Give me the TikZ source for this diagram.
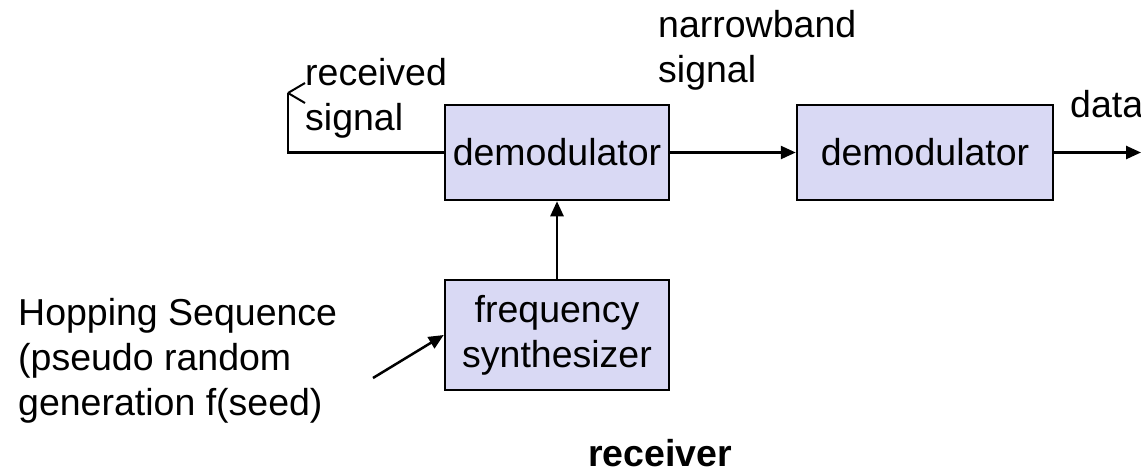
\documentclass[tikz,border=0pt]{standalone}
\usepackage{fontspec}
\setmainfont{Liberation Sans}
\usetikzlibrary{arrows.meta}
\definecolor{boxfill}{RGB}{217,217,244}
\begin{document}
\begin{tikzpicture}[x=1pt,y=-1pt,
  every node/.style={font=\fontsize{37.5}{45}\selectfont, inner sep=0pt},
  blk/.style={draw, line width=2.5pt, fill=boxfill, align=center},
  conn/.style={line width=2.5pt, -{Triangle[length=15pt,width=13pt]}},
  lbl/.style={align=left, anchor=north west}]
\useasboundingbox (0,0) rectangle (1141,474);
\node[blk, minimum width=224pt, minimum height=95pt] (dem1) at (557,152.5) {demodulator};
\node[blk, minimum width=256pt, minimum height=95pt] (dem2) at (925,152.5) {demodulator};
\node[blk, minimum width=224pt, minimum height=110pt] (syn) at (557,335) {frequency\\synthesizer};
\coordinate (rs) at (288,93);
\coordinate (hs) at (373,378);
\coordinate (out) at (1141,152.5);
\draw[line width=2.5pt] (dem1.west) -| (rs);
\draw[line width=2pt] (rs) -- ++(17,-10) (rs) -- ++(17,10);
\draw[conn] (dem1.east) -- (dem2.west);
\draw[conn] (dem2.east) -- (out);
\draw[conn] (syn.north) -- (dem1.south);
\draw[conn] (hs) -- (syn.west);
\node[lbl] (rcv) at (305,58) {received\\signal};
\node[lbl] (nb) at (658,10) {narrowband\\signal};
\node[anchor=base west] (data) at (1070,117) {data};
\node[lbl] (hop) at (18,298) {Hopping Sequence\\(pseudo random\\generation f(seed)};
\node[anchor=base west, font=\fontsize{37.5}{45}\selectfont\bfseries] (recv) at (588,466) {receiver};
\end{tikzpicture}
\end{document}
